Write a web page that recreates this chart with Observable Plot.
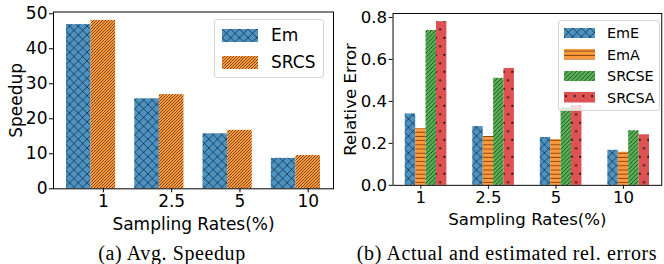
<!DOCTYPE html>
<html>
<head>
<meta charset="utf-8">
<script src="https://cdn.jsdelivr.net/npm/d3@7"></script>
<script src="https://cdn.jsdelivr.net/npm/@observablehq/plot@0.6"></script>
<style>
  html, body { margin: 0; padding: 0; background: #fff; }
  body { width: 664px; height: 264px; overflow: hidden; position: relative; font-family: "DejaVu Sans", sans-serif; }
  .panel { position: absolute; top: 0; }
  .legend { position: absolute; background: rgba(255,255,255,0.8); border: 1px solid #d5d5d5; border-radius: 3px; box-sizing: border-box; }
  .legend .row { position: absolute; display: flex; align-items: center; }
  .legend svg { display: block; }
  .caption { position: absolute; font-family: "Liberation Serif", "Times New Roman", serif; font-size: 20px; line-height: 20px; letter-spacing: 0.6px; white-space: nowrap; transform: translateX(-50%); }
</style>
</head>
<body>
<svg width="0" height="0" style="position:absolute">
  <defs>
    <pattern id="hx" patternUnits="userSpaceOnUse" width="8.7" height="8.7">
      <path d="M0,0L8.7,8.7M8.7,0L0,8.7" stroke="#000" stroke-opacity="0.65" stroke-width="0.85"/>
    </pattern>
    <pattern id="h3" patternUnits="userSpaceOnUse" width="3" height="3">
      <path d="M-1,1L1,-1M0,3L3,0M2,4L4,2" stroke="#000" stroke-opacity="0.65" stroke-width="0.8"/>
    </pattern>
    <pattern id="h2" patternUnits="userSpaceOnUse" width="4.3" height="4.3">
      <path d="M-1,1L1,-1M0,4.3L4.3,0M3.3,5.3L5.3,3.3" stroke="#000" stroke-opacity="0.7" stroke-width="0.85"/>
    </pattern>
    <pattern id="hh" patternUnits="userSpaceOnUse" width="8" height="4.3">
      <path d="M0,2.1L8,2.1" stroke="#5a2c00" stroke-opacity="0.75" stroke-width="1"/>
    </pattern>
    <pattern id="hd" patternUnits="userSpaceOnUse" width="8.7" height="17.4">
      <g fill="#000" fill-opacity="0.8">
        <circle cx="2" cy="4" r="1.1"/>
        <circle cx="6.35" cy="12.7" r="1.1"/>
      </g>
    </pattern>
  </defs>
</svg>

<div id="left" class="panel" style="left:0px"></div>
<div id="right" class="panel" style="left:332px"></div>

<div class="legend" style="left:214px; top:19px; width:110px; height:59px;">
  <div class="row" style="left:7px; top:8px; height:14px;"><span id="sw-em"></span><span style="margin-left:13px; font-size:17px;">Em</span></div>
  <div class="row" style="left:7px; top:35px; height:14px;"><span id="sw-srcs"></span><span style="margin-left:13px; font-size:17px;">SRCS</span></div>
</div>

<div class="legend" style="left:558px; top:20px; width:102px; height:91px;">
  <div class="row" style="left:5px; top:6px; height:12px;"><span id="sw-eme"></span><span style="margin-left:12px; font-size:14.4px;">EmE</span></div>
  <div class="row" style="left:5px; top:27.5px; height:12px;"><span id="sw-ema"></span><span style="margin-left:12px; font-size:14.4px;">EmA</span></div>
  <div class="row" style="left:5px; top:49px; height:12px;"><span id="sw-srcse"></span><span style="margin-left:12px; font-size:14.4px;">SRCSE</span></div>
  <div class="row" style="left:5px; top:70.5px; height:12px;"><span id="sw-srcsa"></span><span style="margin-left:12px; font-size:14.4px;">SRCSA</span></div>
</div>

<div class="caption" style="left:172px; top:243px;">(a) Avg. Speedup</div>
<div class="caption" style="left:507px; top:243px;">(b) Actual and estimated rel. errors</div>

<script>
// ---- data ----
const rates = ["1", "2.5", "5", "10"];
const speedupEm = [46.9, 25.7, 15.7, 8.7];
const speedupSRCS = [48.1, 26.9, 16.7, 9.5];
const errEmE = [0.34, 0.28, 0.228, 0.167];
const errEmA = [0.27, 0.233, 0.218, 0.158];
const errSRCSE = [0.738, 0.51, 0.37, 0.26];
const errSRCSA = [0.78, 0.557, 0.379, 0.241];
const speedupTicks = [0, 10, 20, 30, 40, 50];
const errorTicks = [0, 0.2, 0.4, 0.6, 0.8];

// colours (tab colours at alpha 0.8 on white) and hatches
const C = {blue: "#4c92c3", orange: "#ff993e", green: "#56b356", red: "#de5253"};

function swatch(id, color, hatch, w, h) {
  const el = document.getElementById(id);
  el.innerHTML = `<svg width="${w}" height="${h}"><rect width="${w}" height="${h}" fill="${color}"/><rect width="${w}" height="${h}" fill="url(#${hatch})"/></svg>`;
}

function groupedBars(series, width) {
  const marks = [];
  series.forEach((s, k) => {
    const rows = s.values.map((v, i) => ({i, v, x1: i + k * width - width / 2, x2: i + k * width + width / 2}));
    marks.push(Plot.rectY(rows, {x1: "x1", x2: "x2", y1: 0, y2: "v", fill: s.color}));
    marks.push(Plot.rectY(rows, {x1: "x1", x2: "x2", y1: 0, y2: "v", fill: `url(#${s.hatch})`}));
  });
  return marks;
}

const style = {fontSize: "17px", fontFamily: "DejaVu Sans", background: "transparent", overflow: "visible", color: "#000"};

// ---- left: speedup ----
const wL = 0.36;
const leftSeries = [
  {values: speedupEm, color: C.blue, hatch: "hx"},
  {values: speedupSRCS, color: C.orange, hatch: "h3"}
];
const left = Plot.plot({
  width: 340, height: 240,
  marginLeft: 53, marginRight: 7, marginTop: 11.5, marginBottom: 51.7,
  style,
  x: {domain: [-0.37, 3.73]},
  y: {domain: [0, 50.5]},
  marks: [
    ...groupedBars(leftSeries, wL),
    Plot.axisX(rates.map((_, i) => i + wL), {tickFormat: (d) => rates[Math.round(d - wL)], tickSize: 4, tickPadding: 2, label: "Sampling Rates(%)", labelAnchor: "center", labelOffset: 41, labelArrow: false}),
    Plot.axisY(speedupTicks, {tickSize: 4, tickPadding: 2, label: "Speedup", labelAnchor: "center", labelOffset: 44, labelArrow: false}),
    Plot.frame({stroke: "#000", strokeWidth: 1})
  ]
});
document.getElementById("left").append(left);

// ---- right: relative error ----
const wR = 0.154;
const rightSeries = [
  {values: errEmE, color: C.blue, hatch: "hx"},
  {values: errEmA, color: C.orange, hatch: "hh"},
  {values: errSRCSE, color: C.green, hatch: "h2"},
  {values: errSRCSA, color: C.red, hatch: "hd"}
];
const right = Plot.plot({
  width: 340, height: 240,
  marginLeft: 62, marginRight: 2.8, marginTop: 13.3, marginBottom: 50.7,
  style,
  x: {domain: [-0.258, 3.721]},
  y: {domain: [0, 0.819]},
  marks: [
    ...groupedBars(rightSeries, wR),
    Plot.axisX(rates.map((_, i) => i + wR), {tickFormat: (d) => rates[Math.round(d - wR)], tickSize: 4, tickPadding: 2, label: "Sampling Rates(%)", labelAnchor: "center", labelOffset: 41, labelArrow: false}),
    Plot.axisY(errorTicks, {tickFormat: d3.format(".1f"), tickSize: 4, tickPadding: 2, label: "Relative Error", labelAnchor: "center", labelOffset: 50, labelArrow: false}),
    Plot.frame({stroke: "#000", strokeWidth: 1})
  ]
});
document.getElementById("right").append(right);

swatch("sw-em", C.blue, "hx", 36, 13);
swatch("sw-srcs", C.orange, "h3", 36, 13);
swatch("sw-eme", C.blue, "hx", 31, 10.5);
swatch("sw-ema", C.orange, "hh", 31, 10.5);
swatch("sw-srcse", C.green, "h2", 31, 10.5);
swatch("sw-srcsa", C.red, "hd", 31, 10.5);
</script>
</body>
</html>
